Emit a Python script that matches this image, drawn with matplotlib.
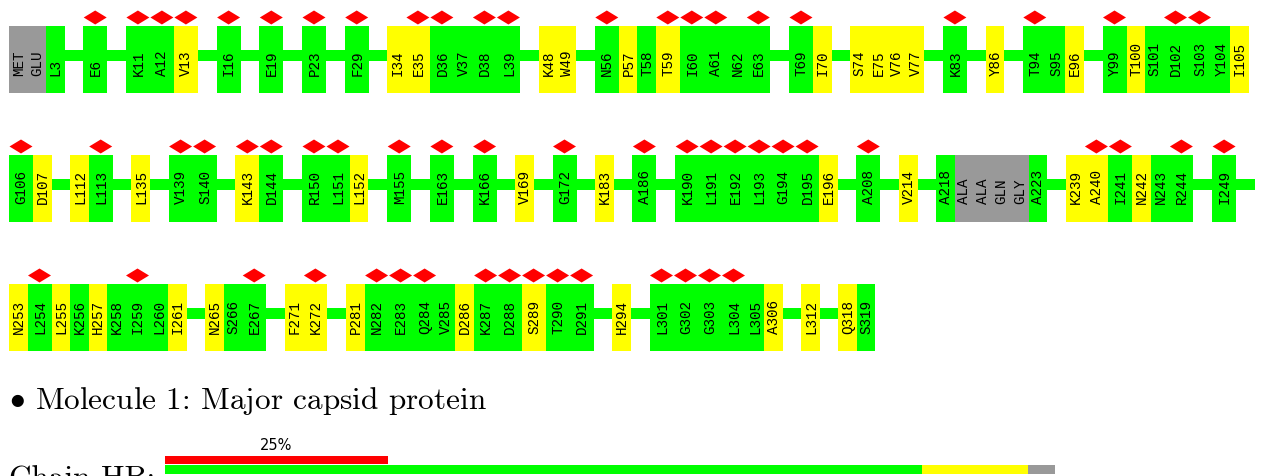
import matplotlib
matplotlib.use("Agg")
import matplotlib.pyplot as plt
from matplotlib.patches import Rectangle, Polygon

# ---------------- data ----------------
ROW1_GROUPS = [["MET", "GLU", "L3"], ["E6"], ["K11", "A12", "V13"], ["I16"], ["E19"], ["P23"], ["F29"],
               ["I34", "E35", "D36", "V37", "D38", "L39"], ["K48", "W49"],
               ["N56", "P57", "T58", "T59", "I60", "A61", "N62", "E63"], ["T69", "I70"],
               ["S74", "E75", "V76", "V77"], ["K83"], ["Y86"], ["T94", "S95", "E96"],
               ["Y99", "T100", "S101", "D102", "S103", "Y104", "I105"]]
ROW1_QUALITY = ["xxg", "g", "ggy", "g", "g", "g", "g", "yygggg", "yy", "gygygggg", "gy", "yyyy",
                "g", "y", "ggy", "gyggggy"]
ROW1_OUTLIERS = ["E6", "K11", "A12", "V13", "I16", "E19", "P23", "F29", "E35", "D36", "D38", "L39",
                 "N56", "T59", "I60", "A61", "E63", "T69", "K83", "T94", "Y99", "D102", "S103"]

ROW2_GROUPS = [["G106", "D107"], ["L112", "L113"], ["L135"], ["V139", "S140"], ["K143", "D144"],
               ["R150", "L151", "L152"], ["M155"], ["E163"], ["K166"], ["V169"], ["G172"], ["K183"],
               ["A186"], ["K190", "L191", "E192", "L193", "G194", "D195", "E196"], ["A208"], ["V214"],
               ["A218", "ALA", "ALA", "GLN", "GLY", "A223"],
               ["K239", "A240", "I241", "N242", "N243", "R244"], ["I249"]]
ROW2_QUALITY = ["gy", "yg", "y", "gg", "yg", "ggy", "g", "g", "g", "y", "g", "y", "g", "ggggggy",
                "g", "y", "gxxxxg", "yygygg", "g"]
ROW2_OUTLIERS = ["G106", "L113", "V139", "S140", "K143", "D144", "R150", "L151", "M155", "E163",
                 "K166", "G172", "A186", "K190", "L191", "E192", "L193", "G194", "D195", "A208",
                 "A240", "I241", "R244", "I249"]

ROW3_GROUPS = [["N253", "L254", "L255", "K256", "H257", "K258", "I259", "L260", "I261"],
               ["N265", "S266", "E267"], ["F271", "K272"],
               ["P281", "N282", "E283", "Q284", "V285", "D286", "K287", "D288", "S289", "T290", "D291"],
               ["H294"], ["L301", "G302", "G303", "L304", "L305", "A306"], ["L312"], ["Q318", "S319"]]
ROW3_QUALITY = ["ygygygggy", "ygg", "yy", "yggggyggygg", "y", "gggggy", "y", "yg"]
ROW3_OUTLIERS = ["L254", "I259", "E267", "K272", "N282", "E283", "Q284", "K287", "D288", "S289",
                 "T290", "D291", "L301", "G302", "G303", "L304"]

ROW_CONTINUES = [False, True, False]

MOLECULE_TITLE = "Molecule 1: Major capsid protein"
CHAIN_LABEL = "Chain HB:"
QUALITY_FRACTIONS = [0.85, 0.12, 0.03]   # green, yellow, grey
OUTLIER_FRACTION = 0.25
OUTLIER_LABEL = "25%"

# ---------------- style ----------------
COLORS = {"g": "#00ff00", "y": "#ffff00", "x": "#999999"}
RED = "#ff0000"
W_OUT, W_PLAIN, GAP = 24.0, 18.5, 18.7
X0, TOP0, ROW_STEP = 9.0, 26.0, 129.0
BOX_H = 66.7

plt.rcParams["mathtext.fontset"] = "cm"

fig = plt.figure(figsize=(12.79, 4.76), dpi=100)
ax = fig.add_axes([0, 0, 1, 1])
ax.set_xlim(0, 1279)
ax.set_ylim(476, 0)
ax.axis("off")

rows = [(ROW1_GROUPS, ROW1_QUALITY, ROW1_OUTLIERS),
        (ROW2_GROUPS, ROW2_QUALITY, ROW2_OUTLIERS),
        (ROW3_GROUPS, ROW3_QUALITY, ROW3_OUTLIERS)]

for r, (groups, quality, outliers) in enumerate(rows):
    top = TOP0 + r * ROW_STEP
    line_y0, line_h = top + 24.0, 11.0
    x = X0
    prev_end = None
    for gi, (grp, q) in enumerate(zip(groups, quality)):
        if prev_end is not None:
            ax.add_patch(Rectangle((prev_end, line_y0), x - prev_end, line_h,
                                   facecolor=COLORS["g"], edgecolor="none", zorder=1))
        run_start, run_col = x, q[0]
        for i, (lab, c) in enumerate(zip(grp, q)):
            w = W_OUT if lab in outliers else W_PLAIN
            if c != run_col:
                ax.add_patch(Rectangle((run_start, top), x - run_start, BOX_H,
                                       facecolor=COLORS[run_col], edgecolor="none", zorder=2))
                run_start, run_col = x, c
            cx = x + w / 2
            if lab in outliers:
                ax.add_patch(Polygon([(cx - 11.5, top - 8.5), (cx, top - 15.5),
                                      (cx + 11.5, top - 8.5), (cx, top - 1.5)],
                                     closed=True, facecolor=RED, edgecolor="none", zorder=3))
            ax.text(cx + 0.5, top + 49.5, lab, rotation=90, ha="center", va="bottom",
                    family="Liberation Mono", fontsize=10.3, color="black", zorder=4)
            x += w
        ax.add_patch(Rectangle((run_start, top), x - run_start, BOX_H,
                               facecolor=COLORS[run_col], edgecolor="none", zorder=2))
        prev_end = x
        x += GAP
    if ROW_CONTINUES[r]:
        ax.add_patch(Rectangle((prev_end, line_y0), GAP, line_h,
                               facecolor=COLORS["g"], edgecolor="none", zorder=1))

# ---------------- molecule summary ----------------
ax.text(9, 409, r"$\bullet$ " + MOLECULE_TITLE, family="cmr10", fontsize=22.5, va="baseline",
        color="black")
ax.text(9, 488, CHAIN_LABEL, family="cmr10", fontsize=22.5, va="baseline", color="black")

BAR_X0, BAR_W = 165.0, 890.0
lefts = []
acc = BAR_X0
for f in QUALITY_FRACTIONS:
    lefts.append(acc)
    acc += f * BAR_W
ax.barh([469.5] * 3, [f * BAR_W for f in QUALITY_FRACTIONS], left=lefts, height=9,
        color=[COLORS["g"], COLORS["y"], COLORS["x"]], edgecolor="none")
ax.barh([460.0], [OUTLIER_FRACTION * BAR_W], left=BAR_X0, height=8, color=RED, edgecolor="none")
ax.text(BAR_X0 + OUTLIER_FRACTION * BAR_W / 2, 446, OUTLIER_LABEL, ha="center", va="center",
        family="DejaVu Sans", fontsize=10.5, color="black")

fig.savefig("out.png", dpi=100)
